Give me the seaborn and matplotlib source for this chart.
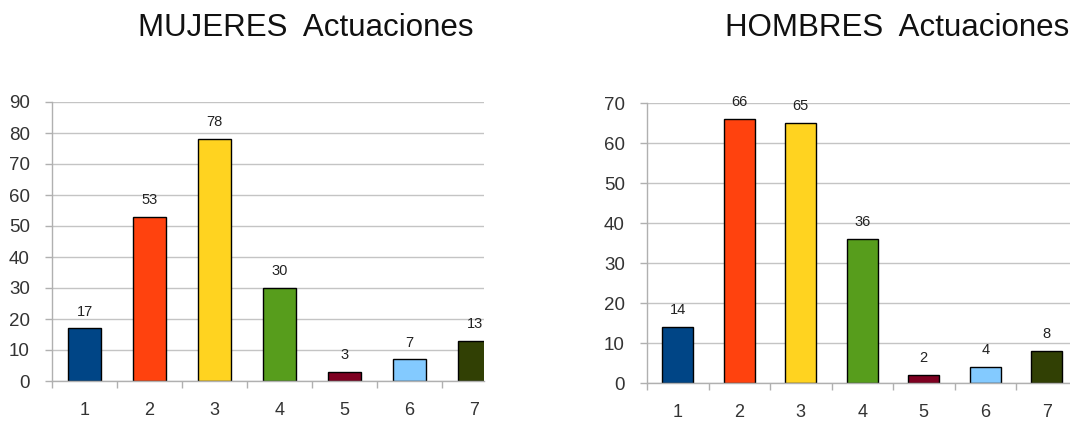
import matplotlib
matplotlib.use("Agg")
import matplotlib.pyplot as plt
import numpy as np
import seaborn as sns

categories = ["1", "2", "3", "4", "5", "6", "7"]
mujeres = [17, 53, 78, 30, 3, 7, 13]
hombres = [14, 66, 65, 36, 2, 4, 8]
bar_colors = ["#004586", "#ff420e", "#ffd320", "#579d1c", "#7e0021", "#83caff", "#314004"]

sns.set_style("white")
plt.rcParams["font.family"] = ["Liberation Sans", "DejaVu Sans"]


def actuaciones_panel(fig, rect, values, title, ymax, xmax, title_x):
    ax = fig.add_axes(rect)
    sns.barplot(
        x=categories,
        y=values,
        hue=categories,
        palette=bar_colors,
        legend=False,
        width=0.5,
        saturation=1,
        edgecolor="black",
        linewidth=1,
        ax=ax,
    )
    for cont in ax.containers:
        ax.bar_label(cont, padding=7, fontsize=10.5, color="#222222")

    ax.set_ylim(0, ymax)
    ax.set_xlim(-0.5, xmax)
    ax.set_yticks(np.arange(0, ymax + 1, 10))
    ax.set_xticks(np.arange(7), categories)
    # separators between categories
    ax.set_xticks(np.arange(7) - 0.5, minor=True)
    ax.tick_params(axis="x", which="major", length=0, pad=15, labelsize=13, labelcolor="#333333")
    ax.tick_params(axis="x", which="minor", length=5, width=1, color="#b0b0b0", direction="out", bottom=True)
    ax.tick_params(axis="y", length=5, width=1, color="#b0b0b0", direction="out", left=True,
                   pad=11, labelsize=13.5, labelcolor="#333333")

    ax.grid(axis="y", color="#c4c4c4", linewidth=1)
    ax.grid(axis="x", visible=False)
    ax.set_axisbelow(True)
    for side in ["top", "right"]:
        ax.spines[side].set_visible(False)
    for side in ["left", "bottom"]:
        ax.spines[side].set_color("#b0b0b0")
        ax.spines[side].set_linewidth(1)
    ax.set_xlabel("")
    ax.set_ylabel("")

    fig.text(title_x, 1 - 28 / 421, title, ha="center", va="center", fontsize=22.5, color="#111111")
    return ax


fig = plt.figure(figsize=(10.70, 4.21), dpi=100)

actuaciones_panel(fig, [52 / 1070, 40 / 421, 432 / 1070, 279 / 421],
                  mujeres, "MUJERES  Actuaciones", 90, 6.146, 306 / 1070)
actuaciones_panel(fig, [647 / 1070, 38 / 421, 423 / 1070, 280 / 421],
                  hombres, "HOMBRES  Actuaciones", 70, 6.378, 897 / 1070)

fig.savefig("out.png", dpi=100)
